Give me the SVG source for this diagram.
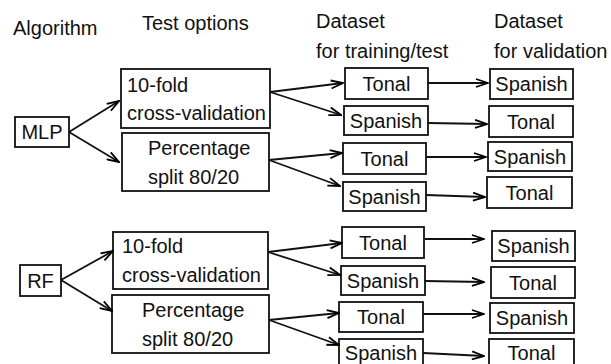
<svg xmlns="http://www.w3.org/2000/svg" width="611" height="364" viewBox="0 0 611 364">
  <defs>
    <marker id="arr" viewBox="0 0 14 10" refX="13" refY="5" markerWidth="14" markerHeight="10" orient="auto" markerUnits="userSpaceOnUse">
      <path d="M1,1 L13,5 L1,9" fill="none" stroke="#000" stroke-width="1.8"/>
    </marker>
  </defs>
  <style>
    text { font-family: "Liberation Sans", Arial, sans-serif; font-size: 20px; fill: #111; }
    .c { text-anchor: middle; }
    rect { fill: #fff; stroke: #111; stroke-width: 1.8; }
    .conn path { fill: none; stroke: #111; stroke-width: 1.8; marker-end: url(#arr); }
  </style>
  <rect x="0" y="0" width="611" height="364" style="stroke:none"/>

  <!-- column headers -->
  <g id="headers">
    <text x="13" y="35">Algorithm</text>
    <text x="142" y="30">Test options</text>
    <text x="316" y="28">Dataset</text>
    <text x="316" y="58">for training/test</text>
    <text x="494" y="28">Dataset</text>
    <text x="494" y="58">for validation</text>
  </g>

  <!-- MLP branch -->
  <g id="mlp"><rect x="15" y="117" width="54" height="30"/><text class="c" x="42" y="139">MLP</text></g>
  <g id="mlp-cv"><rect x="121" y="69" width="149" height="59"/><text x="127" y="92">10-fold</text><text x="127" y="120">cross-validation</text></g>
  <g id="mlp-split"><rect x="122" y="133" width="147" height="58"/><text x="148" y="155">Percentage</text><text x="148" y="184">split 80/20</text></g>
  <g id="mlp-cv-train-tonal"><rect x="345" y="68" width="83" height="31"/><text class="c" x="386.5" y="91">Tonal</text></g>
  <g id="mlp-cv-train-spanish"><rect x="344" y="106" width="84" height="29"/><text class="c" x="386" y="128">Spanish</text></g>
  <g id="mlp-split-train-tonal"><rect x="343" y="143" width="83" height="31"/><text class="c" x="384.5" y="166">Tonal</text></g>
  <g id="mlp-split-train-spanish"><rect x="343" y="182" width="83" height="29"/><text class="c" x="384.5" y="204">Spanish</text></g>
  <g id="mlp-cv-val-spanish"><rect x="490" y="69" width="83" height="30"/><text class="c" x="531.5" y="91">Spanish</text></g>
  <g id="mlp-cv-val-tonal"><rect x="489" y="106" width="84" height="31"/><text class="c" x="531" y="129">Tonal</text></g>
  <g id="mlp-split-val-spanish"><rect x="488" y="142" width="84" height="29"/><text class="c" x="530" y="164">Spanish</text></g>
  <g id="mlp-split-val-tonal"><rect x="487" y="177" width="85" height="31"/><text class="c" x="529.5" y="200">Tonal</text></g>

  <!-- RF branch -->
  <g id="rf"><rect x="20" y="265" width="41" height="31"/><text class="c" x="40.5" y="288">RF</text></g>
  <g id="rf-cv"><rect x="113" y="232" width="155" height="57"/><text x="122" y="253">10-fold</text><text x="122" y="282">cross-validation</text></g>
  <g id="rf-split"><rect x="112" y="295" width="157" height="58"/><text x="142" y="317">Percentage</text><text x="142" y="346">split 80/20</text></g>
  <g id="rf-cv-train-tonal"><rect x="342" y="227" width="82" height="31"/><text class="c" x="383" y="250">Tonal</text></g>
  <g id="rf-cv-train-spanish"><rect x="341" y="266" width="84" height="29"/><text class="c" x="383" y="288">Spanish</text></g>
  <g id="rf-split-train-tonal"><rect x="339" y="302" width="84" height="30"/><text class="c" x="381" y="324">Tonal</text></g>
  <g id="rf-split-train-spanish"><rect x="339" y="339" width="84" height="31"/><text class="c" x="381" y="360">Spanish</text></g>
  <g id="rf-cv-val-spanish"><rect x="492" y="231" width="83" height="30"/><text class="c" x="533.5" y="253">Spanish</text></g>
  <g id="rf-cv-val-tonal"><rect x="491" y="267" width="84" height="31"/><text class="c" x="533" y="290">Tonal</text></g>
  <g id="rf-split-val-spanish"><rect x="490" y="303" width="84" height="30"/><text class="c" x="532" y="325">Spanish</text></g>
  <g id="rf-split-val-tonal"><rect x="489" y="339" width="85" height="31"/><text class="c" x="531.5" y="360">Tonal</text></g>

  <!-- connectors -->
  <g class="conn" id="connectors">
    <path d="M69,132 L119,101"/>
    <path d="M69,132 L119,162"/>
    <path d="M270,92 L343,83"/>
    <path d="M270,92 L341,115"/>
    <path d="M269,160 L342,153"/>
    <path d="M269,160 L340,186"/>
    <path d="M428,83 L488,83"/>
    <path d="M428,123 L487,124"/>
    <path d="M426,157 L486,157"/>
    <path d="M426,195 L485,197"/>

    <path d="M61,280 L113,251"/>
    <path d="M61,280 L112,311"/>
    <path d="M268,252 L342,243"/>
    <path d="M268,252 L340,275"/>
    <path d="M269,320 L339,313"/>
    <path d="M269,320 L339,345"/>
    <path d="M425,239 L484,239"/>
    <path d="M425,281 L484,282"/>
    <path d="M423,314 L484,314"/>
    <path d="M423,353 L484,356"/>
  </g>
</svg>
